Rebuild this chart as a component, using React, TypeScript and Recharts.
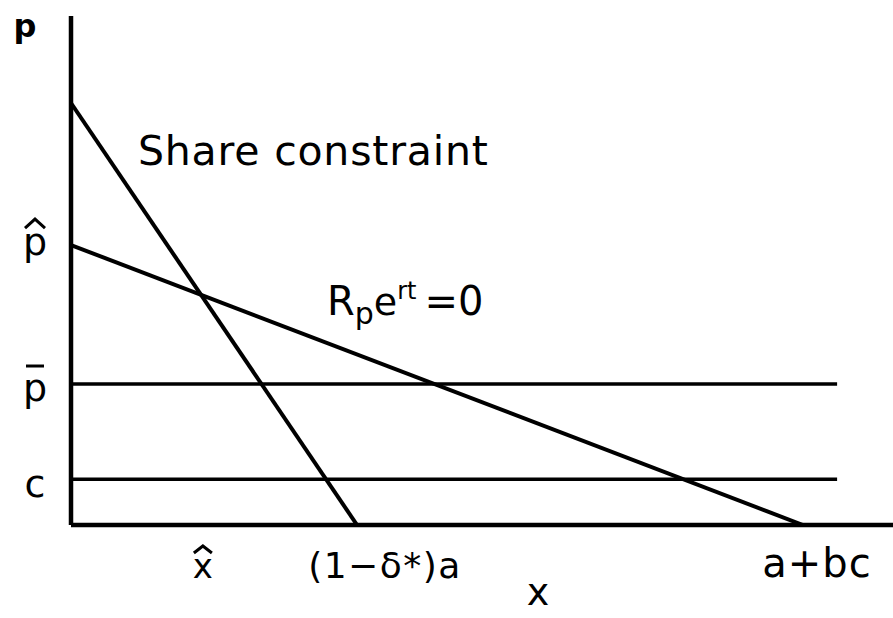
import { LineChart, Line, XAxis, YAxis } from "recharts";

// both axes run 0..100 across the plotting frame
const shareX = [0, 34.8];
const shareP = [82.9, 0];
const demandX = [0, 89.05];
const demandP = [55, 0];
const flatX = [0, 93.2];
const pBar = 27.7;
const cost = 9;
const xHat = 15.8;

const xTickValues = [xHat, shareX[1], demandX[1]];
const xTickLabels = ["x", "(1−δ*)a", "a+bc"];
const yTickValues = [demandP[0], pBar, cost];
const yTickLabels = ["p", "p", "c"];

const toRows = (xs: number[], ps: number[]) => xs.map((x, i) => ({ x, p: ps[i] }));

const shareData = toRows(shareX, shareP);
const demandData = toRows(demandX, demandP);
const pBarData = toRows(flatX, [pBar, pBar]);
const costData = toRows(flatX, [cost, cost]);

const FONT = "DejaVu Sans";
const INK = "#000";

// horizontal nudges and sizes for the quantity labels
const xLabelStyle = [
  { dx: 2, size: 34, spacing: 0, baseline: 53 },
  { dx: 28, size: 36, spacing: 1.5, baseline: 53 },
  { dx: 14, size: 40, spacing: 1, baseline: 52 },
];

const XTick = (props: any) => {
  const { x, y, index } = props;
  const s = xLabelStyle[index];
  const cx = x + s.dx;
  const by = y + s.baseline;
  return (
    <g>
      <text x={cx} y={by} textAnchor="middle" fontFamily={FONT} fontSize={s.size} letterSpacing={s.spacing} fill={INK}>
        {xTickLabels[index]}
      </text>
      {index === 0 && (
        <polyline points={`${cx - 9},${by - 25} ${cx},${by - 32} ${cx + 9},${by - 25}`} fill="none" stroke={INK} strokeWidth={3} />
      )}
    </g>
  );
};

const yLabelDy = [10, 17, 18];

const YTick = (props: any) => {
  const { y, index } = props;
  const cx = 35;
  const by = y + yLabelDy[index];
  return (
    <g>
      <text x={cx} y={by} textAnchor="middle" fontFamily={FONT} fontSize={38} fill={INK}>
        {yTickLabels[index]}
      </text>
      {index === 0 && (
        <polyline points={`${cx - 10},${by - 27} ${cx},${by - 36} ${cx + 10},${by - 27}`} fill="none" stroke={INK} strokeWidth={3} />
      )}
      {index === 1 && <line x1={cx - 9} x2={cx + 9} y1={by - 35} y2={by - 35} stroke={INK} strokeWidth={3} />}
    </g>
  );
};

export default function App() {
  return (
    <div style={{ width: 893, height: 618, background: "#fff" }}>
      <style>{"body{margin:0}"}</style>
      <LineChart width={893} height={618} margin={{ top: 16, right: 0, bottom: 0, left: 0 }}>
        <XAxis
          dataKey="x"
          type="number"
          domain={[0, 100]}
          allowDataOverflow
          ticks={xTickValues}
          tick={<XTick />}
          tickLine={false}
          tickSize={0}
          tickMargin={0}
          height={93}
          axisLine={{ stroke: INK, strokeWidth: 4.5 }}
        />
        <YAxis
          type="number"
          domain={[0, 100]}
          allowDataOverflow
          ticks={yTickValues}
          tick={<YTick />}
          tickLine={false}
          tickSize={0}
          tickMargin={0}
          width={71}
          axisLine={{ stroke: INK, strokeWidth: 4.5 }}
        />
        <Line data={shareData} dataKey="p" stroke={INK} strokeWidth={4} dot={false} isAnimationActive={false} />
        <Line data={demandData} dataKey="p" stroke={INK} strokeWidth={4} dot={false} isAnimationActive={false} />
        <Line data={pBarData} dataKey="p" stroke={INK} strokeWidth={3.5} dot={false} isAnimationActive={false} />
        <Line data={costData} dataKey="p" stroke={INK} strokeWidth={3.5} dot={false} isAnimationActive={false} />

        <text x={25} y={37} textAnchor="middle" fontFamily={FONT} fontSize={32} fontWeight="bold" fill={INK}>
          p
        </text>
        <text x={138} y={165} fontFamily={FONT} fontSize={41} letterSpacing={0.8} fill={INK}>
          Share constraint
        </text>
        <text x={327} y={315} fontFamily={FONT} fontSize={40} fill={INK}>
          R
          <tspan dy={9} fontSize={30}>p</tspan>
          <tspan dy={-9} fontSize={38}>e</tspan>
          <tspan dy={-16} fontSize={24}>rt</tspan>
          <tspan dy={16} dx={8} fontSize={40}>=0</tspan>
        </text>
        <text x={538} y={605} textAnchor="middle" fontFamily={FONT} fontSize={38} fill={INK}>
          x
        </text>
      </LineChart>
    </div>
  );
}
